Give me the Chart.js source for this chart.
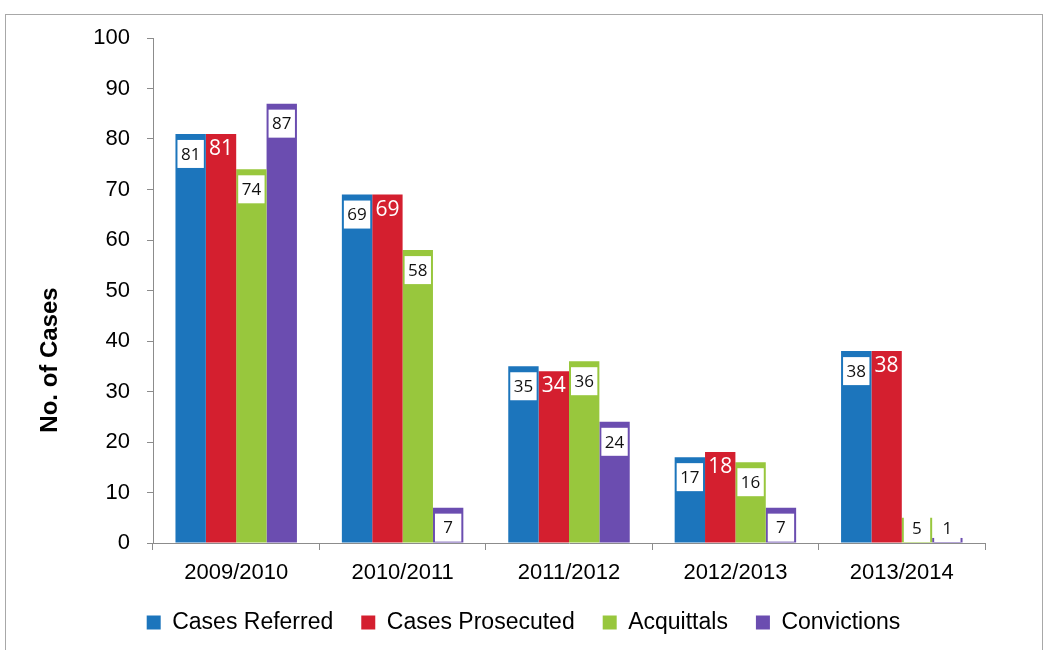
<!DOCTYPE html>
<html>
<head>
<meta charset="utf-8">
<script src="https://cdn.jsdelivr.net/npm/chart.js@4.4.1/dist/chart.umd.min.js"></script>
<style>
  html, body { margin:0; padding:0; background:#fff; overflow:hidden; }
  #frame { position:absolute; left:5px; top:14px; width:1036px; height:700px; border:1px solid #a8a8a8; }
  #wrap { position:absolute; left:0; top:0; width:1047px; height:650px; }
</style>
</head>
<body>
<div id="frame"></div>
<div id="wrap"><canvas id="casesChart"></canvas></div>
<script>
// ===== data =====
const years = ['2009/2010', '2010/2011', '2011/2012', '2012/2013', '2013/2014'];
const casesReferred   = [81, 69, 35, 17, 38];
const casesProsecuted = [81, 69, 34, 18, 38];
const acquittals      = [74, 58, 36, 16, 5];
const convictions     = [87, 7, 24, 7, 1];
const yMax = 100;
const yStep = 10;

const axisGrey = '#8c8c8c';
const arial = '"Liberation Sans", Arial, sans-serif';

// ===== value labels: white box + black text, red series gets white text =====
const barLabels = {
    id: 'barLabels',
    afterDatasetsDraw(chart) {
        const c = chart.ctx;
        const bottom = chart.chartArea.bottom;
        chart.data.datasets.forEach((ds, i) => {
            const meta = chart.getDatasetMeta(i);
            meta.data.forEach((bar, j) => {
                const txt = String(ds.data[j]);
                c.save();
                c.textAlign = 'center';
                c.textBaseline = 'middle';
                if (i === 1) {
                    c.fillStyle = '#fff';
                    c.font = '21px "Open Sans"';
                    c.fillText(txt, bar.x, bar.y + 15);
                } else {
                    const cy = Math.min(bar.y + 20, bottom - 15);
                    c.fillStyle = '#fff';
                    c.fillRect(bar.x - bar.width / 2 + 2, cy - 14, bar.width - 4, 28);
                    c.fillStyle = '#111';
                    c.font = '17px "Open Sans"';
                    c.fillText(txt, bar.x, cy + 1);
                }
                c.restore();
            });
        });
    }
};

// y title sits lower than the axis middle in the original
const yTitle = {
    id: 'yTitle',
    afterDraw(chart) {
        const c = chart.ctx;
        c.save();
        c.translate(50, 360);
        c.rotate(-Math.PI / 2);
        c.font = 'bold 24px ' + arial;
        c.fillStyle = '#000';
        c.textAlign = 'center';
        c.textBaseline = 'middle';
        c.fillText('No. of Cases', 0, 0);
        c.restore();
    }
};

const ctx = document.getElementById('casesChart').getContext('2d');
const casesChart = new Chart(ctx, {
    type: 'bar',
    data: {
        labels: years,
        datasets: [
            { label: 'Cases Referred',   data: casesReferred,   backgroundColor: '#1c75bc' },
            { label: 'Cases Prosecuted', data: casesProsecuted, backgroundColor: '#d41f2f' },
            { label: 'Acquittals',       data: acquittals,      backgroundColor: '#98c73d' },
            { label: 'Convictions',      data: convictions,     backgroundColor: '#6b4db0' }
        ]
    },
    options: {
        responsive: true,
        maintainAspectRatio: false,
        animation: false,
        datasets: { bar: { categoryPercentage: 0.73, barPercentage: 1 } },
        layout: { padding: { left: 0, right: 0, top: 38, bottom: 6 } },
        plugins: {
            tooltip: { enabled: false },
            legend: {
                position: 'bottom',
                labels: {
                    boxWidth: 14,
                    boxHeight: 14,
                    padding: 28,
                    color: '#000',
                    font: { family: arial, size: 23 }
                }
            }
        },
        scales: {
            x: {
                grid: { offset: true, drawOnChartArea: false, drawTicks: true, tickLength: 7, color: axisGrey },
                border: { color: axisGrey },
                ticks: { color: '#000', padding: 10, font: { family: arial, size: 22 } },
                afterFit(scale) { scale.height = 40; }
            },
            y: {
                min: 0,
                max: yMax,
                grid: { drawOnChartArea: false, drawTicks: true, tickLength: 6, color: axisGrey },
                border: { color: axisGrey },
                ticks: { stepSize: yStep, color: '#000', padding: 17, font: { family: arial, size: 22 } },
                afterFit(scale) { scale.width = 153; }
            },
            // empty space on the right of the plot
            spacer: {
                type: 'linear',
                position: 'right',
                grid: { display: false },
                border: { display: false },
                ticks: { display: false },
                afterFit(scale) { scale.width = 62; }
            }
        }
    },
    plugins: [barLabels, yTitle]
});
</script>
</body>
</html>
